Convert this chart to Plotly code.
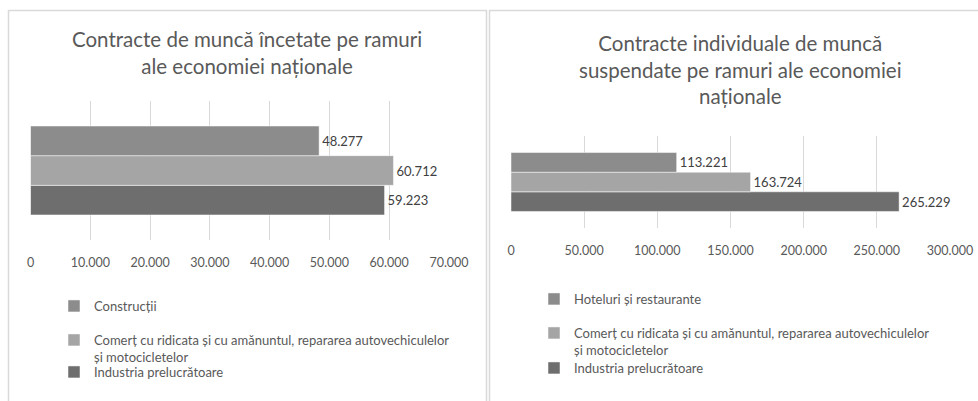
import plotly.graph_objects as go

# ---- data ----
left_title = "Contracte de muncă încetate pe ramuri<br>ale economiei naționale"
right_title = "Contracte individuale de muncă<br>suspendate pe ramuri ale economiei<br>naționale"

left_series = ["Industria prelucrătoare",
               "Comerț cu ridicata și cu amănuntul, repararea autovechiculelor<br>și motocicletelor",
               "Construcții"]
left_values = [59223, 60712, 48277]

right_series = ["Industria prelucrătoare",
                "Comerț cu ridicata și cu amănuntul, repararea autovechiculelor<br>și motocicletelor",
                "Hoteluri și restaurante"]
right_values = [265229, 163724, 113221]

left_ticks = [0, 10000, 20000, 30000, 40000, 50000, 60000, 70000]
right_ticks = [0, 50000, 100000, 150000, 200000, 250000, 300000]

colors = ["#6e6e6e", "#a5a5a5", "#8c8c8c"]

W, H = 978, 401
FONT = "Lato"
GREY = "#595959"


def px_x(p):
    return p / W


def px_y(p):
    return 1 - p / H


# legend row centres (pixels from top of the window) for each trace, per panel
left_leg_rows = [372, 340, 306]
right_leg_rows = [368, 333, 299]
LEG_OFF = 15

fig = go.Figure()
legend_layout = {}
k = 1
for panel, (series, values, rows, xa, ya, lx) in enumerate([
        (left_series, left_values, left_leg_rows, "x", "y", 54),
        (right_series, right_values, right_leg_rows, "x2", "y2", 534)]):
    for i, (name, v) in enumerate(zip(series, values)):
        lname = "legend" if k == 1 else "legend%d" % k
        fig.add_trace(go.Bar(
            y=[""], x=[v], name=name, orientation="h",
            marker=dict(color=colors[i], line=dict(color="white", width=0.5)),
            text=[v], texttemplate="%{x:,}", textposition="outside",
            textfont=dict(color="#404040", size=13, family=FONT),
            cliponaxis=False, xaxis=xa, yaxis=ya, legend=lname,
            hoverinfo="x+name"))
        legend_layout[lname] = dict(
            x=px_x(lx), y=px_y(rows[i] - LEG_OFF), xanchor="left", yanchor="top",
            font=dict(size=13, color=GREY, family=FONT), valign="top",
            itemwidth=30, bgcolor="rgba(0,0,0,0)")
        k += 1

axis_common = dict(showgrid=True, gridcolor="#d9d9d9", gridwidth=1, zeroline=False,
                   showline=False, ticks="", ticklabelstandoff=13,
                   ticklabeloverflow="allow",
                   tickfont=dict(size=12.5, color=GREY, family=FONT),
                   tickformat=",d", fixedrange=True)

fig.update_layout(
    width=W, height=H, margin=dict(l=0, r=0, t=0, b=0, autoexpand=False),
    paper_bgcolor="white", plot_bgcolor="white",
    separators=",.",
    barmode="group", bargap=0.36, bargroupgap=0,
    font=dict(family=FONT, color=GREY),
    xaxis=dict(domain=[px_x(30.5), px_x(449)], range=[0, 70000], tickvals=left_ticks,
               anchor="y", **axis_common),
    yaxis=dict(domain=[px_y(240), px_y(101)], showticklabels=False, showgrid=False,
               zeroline=False, anchor="x", fixedrange=True),
    xaxis2=dict(domain=[px_x(511), px_x(950)], range=[0, 300000], tickvals=right_ticks,
                anchor="y2", **axis_common),
    yaxis2=dict(domain=[px_y(228), px_y(136)], showticklabels=False, showgrid=False,
                zeroline=False, anchor="x2", fixedrange=True),
    showlegend=True,
    annotations=[
        dict(text=left_title, x=px_x(247), y=px_y(25), xref="paper", yref="paper",
             xanchor="center", yanchor="top", showarrow=False,
             font=dict(size=20.5, color=GREY, family=FONT)),
        dict(text=right_title, x=px_x(740), y=px_y(29), xref="paper", yref="paper",
             xanchor="center", yanchor="top", showarrow=False,
             font=dict(size=20.5, color=GREY, family=FONT)),
    ],
    shapes=[
        dict(type="rect", xref="paper", yref="paper", x0=px_x(8.5), x1=px_x(486.5),
             y0=px_y(420), y1=px_y(10.5), line=dict(color="#d9d9d9", width=1.5)),
        dict(type="rect", xref="paper", yref="paper", x0=px_x(489.5), x1=px_x(1000),
             y0=px_y(420), y1=px_y(10.5), line=dict(color="#d9d9d9", width=1.5)),
    ],
    **legend_layout,
)

fig.write_html(
    "out.html",
    config={"displayModeBar": False},
    post_script="document.body.style.margin='0';document.body.style.overflow='hidden';",
)
